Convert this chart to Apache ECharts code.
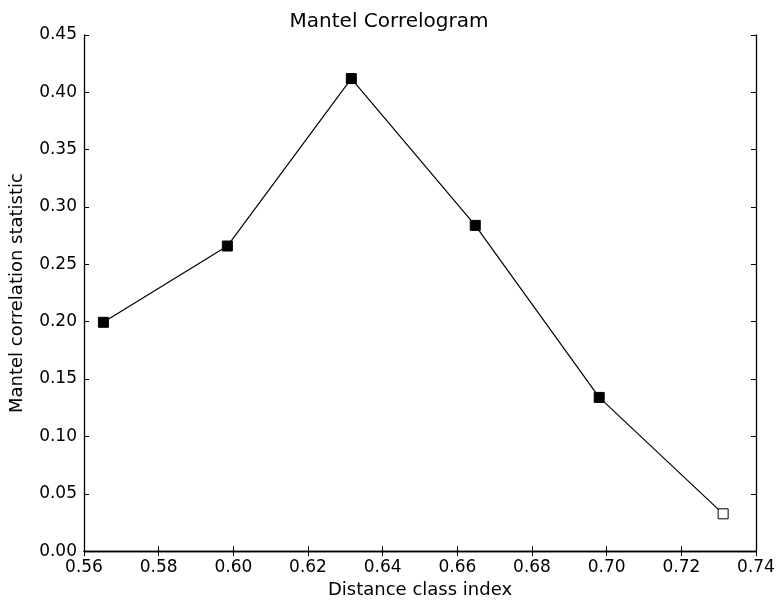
<!DOCTYPE html>
<html>
<head>
<meta charset="utf-8">
<script src="https://cdn.jsdelivr.net/npm/echarts@6/dist/echarts.min.js"></script>
<style>
html, body { margin: 0; padding: 0; background: #fff; }
#main { width: 778px; height: 604px; }
</style>
</head>
<body>
<div id="main"></div>
<script>
var distClass = [0.5652, 0.5984, 0.6316, 0.6648, 0.6980, 0.7312];
var mantelR = [0.1995, 0.266, 0.412, 0.284, 0.134, 0.0325];
var significant = [true, true, true, true, true, false];

var font = 'DejaVu Sans';
var points = [];
for (var i = 0; i < distClass.length; i++) {
    points.push({
        value: [distClass[i], mantelR[i]],
        itemStyle: {
            color: significant[i] ? '#000' : '#fff',
            borderColor: '#000',
            borderWidth: 1
        }
    });
}

var axisLine = { show: true, lineStyle: { color: '#000', width: 1.3 } };
var tick = { show: true, inside: true, length: 5, lineStyle: { color: '#000' } };

var chart = echarts.init(document.getElementById('main'));
chart.setOption({
    animation: false,
    title: {
        text: 'Mantel Correlogram',
        left: 'center',
        top: 7,
        textStyle: { fontFamily: font, fontSize: 20, fontWeight: 'normal', color: '#000' }
    },
    grid: { left: 84, right: 22, top: 35, bottom: 48 },
    xAxis: [{
        type: 'value',
        min: 0.56, max: 0.74, interval: 0.02,
        name: 'Distance class index',
        nameLocation: 'middle',
        nameGap: 29,
        nameTextStyle: { fontFamily: font, fontSize: 18, color: '#000' },
        axisLine: axisLine,
        axisTick: tick,
        axisLabel: {
            fontFamily: font, fontSize: 17, color: '#000', margin: 8,
            formatter: function (v) { return v.toFixed(2); }
        },
        splitLine: { show: false }
    }, {
        type: 'value',
        position: 'top',
        min: 0.56, max: 0.74, interval: 0.02,
        axisLine: axisLine,
        axisTick: tick,
        axisLabel: { show: false },
        splitLine: { show: false }
    }],
    yAxis: [{
        type: 'value',
        min: 0, max: 0.45, interval: 0.05,
        name: 'Mantel correlation statistic',
        nameLocation: 'middle',
        nameGap: 58,
        nameTextStyle: { fontFamily: font, fontSize: 18, color: '#000' },
        axisLine: axisLine,
        axisTick: tick,
        axisLabel: {
            fontFamily: font, fontSize: 17, color: '#000', margin: 7,
            formatter: function (v) { return v.toFixed(2); }
        },
        splitLine: { show: false }
    }, {
        type: 'value',
        position: 'right',
        min: 0, max: 0.45, interval: 0.05,
        axisLine: axisLine,
        axisTick: tick,
        axisLabel: { show: false },
        splitLine: { show: false }
    }],
    series: [{
        type: 'line',
        data: points,
        symbol: 'rect',
        symbolSize: 10,
        lineStyle: { color: '#000', width: 1.2 },
        itemStyle: { color: '#000', borderColor: '#000' },
        z: 3
    }]
});
</script>
</body>
</html>
